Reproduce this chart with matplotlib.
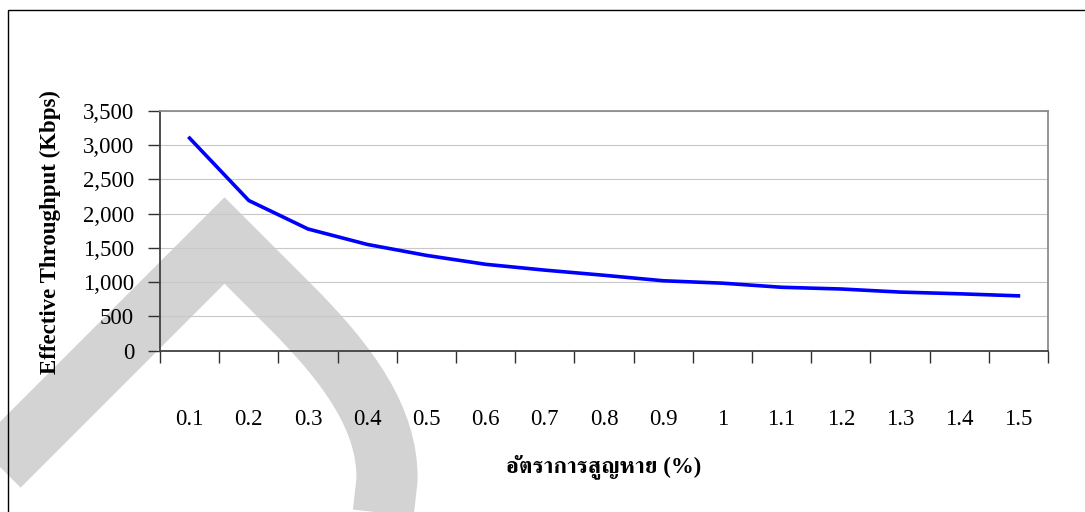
import matplotlib
matplotlib.use("Agg")
import matplotlib.pyplot as plt
import numpy as np
from matplotlib.path import Path
from matplotlib.patches import PathPatch, Rectangle
from matplotlib.ticker import FixedLocator, FuncFormatter

# packet loss rate (%) vs. effective throughput (Kbps)
loss_labels = ["0.1", "0.2", "0.3", "0.4", "0.5", "0.6", "0.7", "0.8",
               "0.9", "1", "1.1", "1.2", "1.3", "1.4", "1.5"]
throughput = [3100, 2190, 1775, 1550, 1390, 1260, 1175, 1100,
              1020, 985, 925, 900, 855, 830, 800]

W, H = 1085, 512
plt.rcParams["font.family"] = ["Liberation Serif", "FreeSerif"]

fig = plt.figure(figsize=(W / 100, H / 100), dpi=100)

# background layer in pixel coordinates: page frame and grey watermark
bg = fig.add_axes([0, 0, 1, 1], zorder=0)
bg.set_xlim(0, W)
bg.set_ylim(H, 0)
bg.axis("off")
mark = Path(
    [(-70, 535), (224.5, 240.5), (290, 306), (350, 366), (388, 420), (387, 480), (378, 560)],
    [Path.MOVETO, Path.LINETO, Path.LINETO, Path.CURVE4, Path.CURVE4, Path.CURVE4, Path.LINETO],
)
bg.add_patch(PathPatch(mark, fill=False, edgecolor="#d3d3d3", lw=44,
                       joinstyle="miter", capstyle="butt"))
bg.add_patch(Rectangle((8, 10), W, H, fill=False, edgecolor="black", lw=1))

ax = fig.add_axes([160 / W, (H - 350.7) / H, 888 / W, 240 / H], zorder=1)
ax.set_facecolor("none")

x = np.arange(len(throughput))
ax.plot(x, throughput, color="#0000ff", lw=2.6, solid_joinstyle="round", zorder=3)

ax.set_xlim(-0.5, len(throughput) - 0.5)
ax.set_ylim(0, 3500)
ax.set_yticks(np.arange(0, 3501, 500))
ax.yaxis.set_major_formatter(FuncFormatter(lambda v, _: f"{v:,.0f}"))
ax.grid(axis="y", color="#c8c8c8", lw=0.8, zorder=1)

# tick marks between categories, labels at the category centres
ax.xaxis.set_major_locator(FixedLocator(np.arange(-0.5, len(throughput), 1.0)))
ax.xaxis.set_major_formatter(FuncFormatter(lambda v, _: ""))
ax.xaxis.set_minor_locator(FixedLocator(x))
ax.set_xticklabels(loss_labels, minor=True)

ax.tick_params(axis="both", which="major", direction="out", length=8.6,
               width=1.0, color="#303030", labelsize=16.5)
ax.tick_params(axis="y", pad=10)
ax.tick_params(axis="x", which="minor", length=0, pad=42, labelsize=16.5)

for side in ("left", "bottom"):
    ax.spines[side].set_color("#404040")
    ax.spines[side].set_linewidth(1.3)
for side in ("top", "right"):
    ax.spines[side].set_color("#8c8c8c")
    ax.spines[side].set_linewidth(1.3)

fig.text(50 / W, 1 - 232 / H, "Effective Throughput (Kbps)", rotation=90,
         ha="center", va="center", fontsize=16.5, fontweight="bold")
fig.text(604 / W, 1 - 467 / H, "อัตราการสูญหาย (%)", ha="center", va="center",
         fontsize=16.5, fontweight="bold")

fig.savefig("out.png", dpi=100)
